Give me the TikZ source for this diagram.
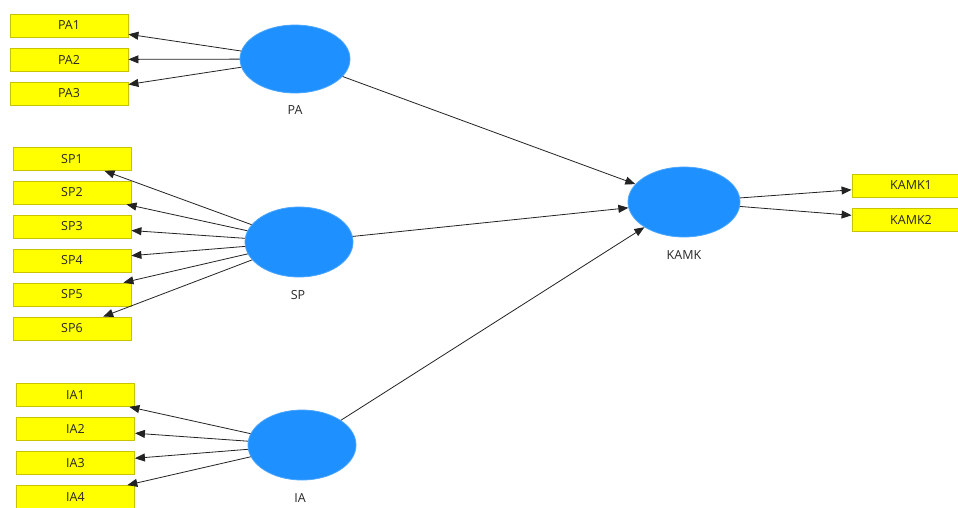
\documentclass[tikz,border=0pt]{standalone}
\usepackage{fontspec}
\setmainfont{Open Sans}
\usetikzlibrary{shapes.geometric,arrows.meta}
\definecolor{lvblue}{RGB}{30,144,255}
\definecolor{indfill}{RGB}{255,255,0}
\definecolor{indline}{RGB}{200,195,0}
\definecolor{txt}{RGB}{40,40,40}
\definecolor{arrline}{RGB}{35,35,35}
\begin{document}
\begin{tikzpicture}[x=1pt,y=-1pt,
  ind/.style={draw=indline, fill=indfill, line width=0.8pt, minimum width=118pt, minimum height=23pt, inner sep=0pt, text=txt, font=\fontsize{12.5}{14}\selectfont},
  lv/.style={ellipse, fill=lvblue, draw=lvblue!80!white, line width=0.8pt, inner sep=0pt},
  lab/.style={text=txt, font=\fontsize{12.5}{14}\selectfont},
  arr/.style={draw=arrline, line width=0.8pt, -{Triangle[length=10pt,width=8pt]}}]
\useasboundingbox (0,0) rectangle (958,507);
\clip (0,0) rectangle (958,507);
\fill[white] (0,0) rectangle (958,507);
% latent variables
\node[lv, minimum width=110pt, minimum height=68pt] (PA) at (295,59) {};
\node[lv, minimum width=108pt, minimum height=70pt] (SP) at (299,242) {};
\node[lv, minimum width=108pt, minimum height=70pt] (IA) at (302,445) {};
\node[lv, minimum width=112pt, minimum height=70pt] (KAMK) at (684,202) {};
\node[lab] (PAl) at (295,110) {PA};
\node[lab] (SPl) at (298,295) {SP};
\node[lab] (IAl) at (300,498) {IA};
\node[lab] (KAMKl) at (684,255) {KAMK};
% indicators
\node[ind] (PA1) at (69,25.5) {PA1};
\node[ind] (PA2) at (69,59.5) {PA2};
\node[ind] (PA3) at (69,93.5) {PA3};
\node[ind] (SP1) at (72,159) {SP1};
\node[ind] (SP2) at (72,192.5) {SP2};
\node[ind] (SP3) at (72,226.5) {SP3};
\node[ind] (SP4) at (72,260.5) {SP4};
\node[ind] (SP5) at (72,294.5) {SP5};
\node[ind] (SP6) at (72,328.5) {SP6};
\node[ind] (IA1) at (75.5,395) {IA1};
\node[ind] (IA2) at (75.5,429) {IA2};
\node[ind] (IA3) at (75.5,463) {IA3};
\node[ind] (IA4) at (75.5,497) {IA4};
\node[ind] (KAMK1) at (911,185.5) {KAMK1};
\node[ind] (KAMK2) at (911,220) {KAMK2};
% arrows
\foreach \i in {1,2,3} {\draw[arr] (PA) -- (PA\i);}
\foreach \i in {1,...,6} {\draw[arr] (SP) -- (SP\i);}
\foreach \i in {1,...,4} {\draw[arr] (IA) -- (IA\i);}
\draw[arr] (PA) -- (KAMK);
\draw[arr] (SP) -- (KAMK);
\draw[arr] (IA) -- (KAMK);
\draw[arr] (KAMK) -- (KAMK1);
\draw[arr] (KAMK) -- (KAMK2);
\end{tikzpicture}
\end{document}
